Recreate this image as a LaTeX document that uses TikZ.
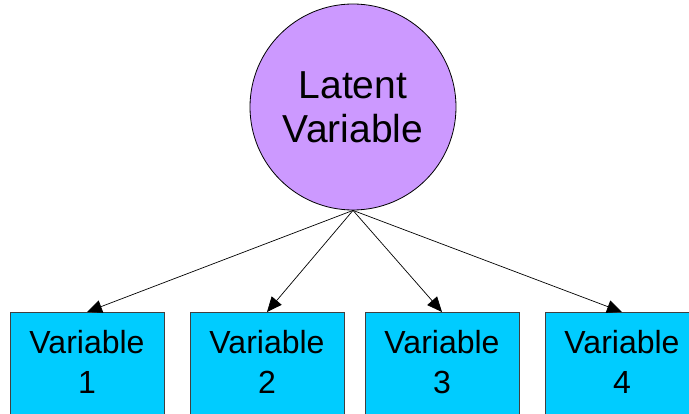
\documentclass[tikz,border=0pt]{standalone}
\usepackage{fontspec}
\setmainfont{Liberation Sans}
\usetikzlibrary{arrows.meta}
\definecolor{lvpurple}{HTML}{CC99FF}
\definecolor{obscyan}{HTML}{00CCFF}
\tikzset{Latent Style/.style={circle, draw=black, line width=0.8pt, fill=lvpurple, minimum size=206pt, inner sep=0pt, align=center, font=\fontsize{39}{44}\selectfont},
	Observed Style/.style={rectangle, draw=black!75, line width=0.8pt, fill=obscyan, minimum width=154pt, inner xsep=0pt, inner ysep=0pt, anchor=north, align=center, text height=81pt, text depth=60pt, font=\fontsize{32}{40}\selectfont},
	Load Style/.style={line width=0.7pt, -{Triangle[length=15pt,width=13pt]}}}

\begin{document}
\begin{tikzpicture}[x=1pt,y=-1pt]
		\useasboundingbox (0,0) rectangle (689,414);
		\node [Latent Style] (lv) at (353,107) {Latent\\Variable};
		\node [Observed Style] (v1) at (87,312) {Variable\\1};
		\node [Observed Style] (v2) at (267,312) {Variable\\2};
		\node [Observed Style] (v3) at (442,312) {Variable\\3};
		\node [Observed Style] (v4) at (622,312) {Variable\\4};
		\foreach \v in {v1,v2,v3,v4}{%
			\draw [Load Style] (lv.south) -- (\v.north);
		}
	\end{tikzpicture}
\end{document}
